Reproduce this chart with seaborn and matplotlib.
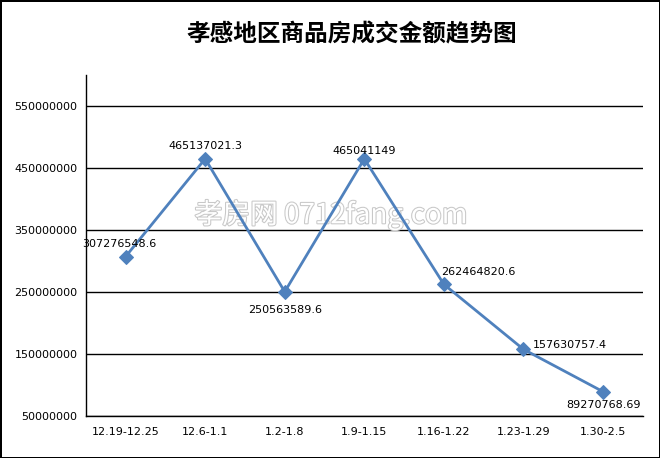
import numpy as np
import pandas as pd
import seaborn as sns
import matplotlib.pyplot as plt
import matplotlib.patheffects as pe

periods = ["12.19-12.25", "12.6-1.1", "1.2-1.8", "1.9-1.15",
           "1.16-1.22", "1.23-1.29", "1.30-2.5"]
amounts = [307276548.6, 465137021.3, 250563589.6, 465041149,
           262464820.6, 157630757.4, 89270768.69]
amount_labels = ["307276548.6", "465137021.3", "250563589.6", "465041149",
                 "262464820.6", "157630757.4", "89270768.69"]
y_ticks = [50000000, 150000000, 250000000, 350000000, 450000000, 550000000]

# where each data label sits relative to its point (pixels) and alignment
label_pos = [(-6, 13, "center", "center"), (0, 13, "center", "center"),
             (0, -18, "center", "center"), (0, 8, "center", "center"),
             (-3, 12, "left", "center"), (9, 4, "left", "center"),
             (0, -13, "center", "center")]

sns.set_style("white")
plt.rcParams['font.family'] = ['DejaVu Sans', 'Noto Sans CJK SC']
plt.rcParams['text.color'] = 'black'
plt.rcParams['xtick.color'] = 'black'
plt.rcParams['ytick.color'] = 'black'

df = pd.DataFrame({"pos": np.arange(len(periods)), "amount": amounts})

fig = plt.figure(figsize=(6.6, 4.58), dpi=100)
fig.patch.set_edgecolor("black")
fig.patch.set_linewidth(2)
ax = fig.add_axes([0.130, 0.0917, 0.844, 0.744])

blue = "#4F81BD"
sns.lineplot(data=df, x="pos", y="amount", ax=ax, color=blue, linewidth=2,
             marker="D", markersize=7, markeredgecolor=blue, zorder=3)

ax.set_xlim(-0.5, len(periods) - 0.5)
ax.set_ylim(50000000, 600000000)
ax.set_yticks(y_ticks)
ax.set_yticklabels([str(t) for t in y_ticks], fontsize=8)
ax.set_xticks(df["pos"])
ax.set_xticklabels(periods, fontsize=8)
ax.set_xticks(np.arange(len(periods) + 1) - 0.5, minor=True)
ax.tick_params(axis="x", which="major", length=0, pad=8)
ax.tick_params(axis="x", which="minor", length=5, width=1, color="black", direction="out")
ax.tick_params(axis="y", length=4, width=1, color="black", direction="out", pad=2)
ax.set_xlabel("")
ax.set_ylabel("")

for t in y_ticks:
    ax.axhline(t, color="black", linewidth=1, zorder=1)

for s in ["top", "right"]:
    ax.spines[s].set_visible(False)
for s in ["left", "bottom"]:
    ax.spines[s].set_color("black")
    ax.spines[s].set_linewidth(1)

for i, (lab, (dx, dy, ha, va)) in enumerate(zip(amount_labels, label_pos)):
    ax.annotate(lab, (i, amounts[i]), xytext=(dx, dy), textcoords="offset pixels",
                ha=ha, va=va, fontsize=8, zorder=4)

# watermark
ax.text(0.44, 0.59, "孝房网 0712fang.com", transform=ax.transAxes, ha="center", va="center",
        fontsize=20, color="white", family=["Noto Sans CJK SC", "DejaVu Sans"], zorder=2,
        path_effects=[pe.withStroke(linewidth=1.5, foreground="#c8c8c8")])

fig.text(0.533, 0.925, "孝感地区商品房成交金额趋势图", ha="center", va="center",
         fontsize=17, fontweight="bold", family=["Noto Sans CJK SC", "DejaVu Sans"])

fig.savefig("out.png", dpi=100, edgecolor=fig.get_edgecolor())
